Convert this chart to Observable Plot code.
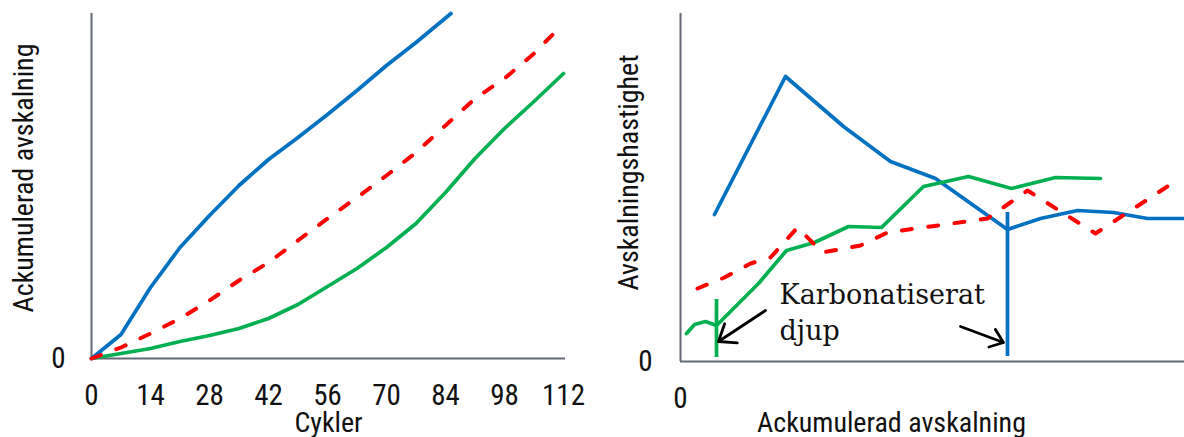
<!DOCTYPE html>
<html><head><meta charset="utf-8">
<script src="https://cdn.jsdelivr.net/npm/d3@7"></script>
<script src="https://cdn.jsdelivr.net/npm/@observablehq/plot@0.6"></script>
<style>
body{margin:0;background:#fff;}
#wrap{position:relative;width:1184px;height:437px;overflow:hidden;background:#fff;}
#left{position:absolute;left:0;top:0;}
#right{position:absolute;left:600px;top:0;}
</style></head><body><div id="wrap"><div id="left"></div><div id="right"></div></div>
<script>
// ---------- Left panel: accumulated scaling vs cycles ----------
const xTicksLeft = [0, 14, 28, 42, 56, 70, 84, 98, 112];
const blueCycles = [0, 7, 14, 21, 28, 35, 42, 49, 56, 63, 70, 77, 85.3];
const blueAcc    = [0, 24, 71, 111, 143, 173, 199, 221, 244, 268, 293, 316, 345];
const cycles     = [0, 7, 14, 21, 28, 35, 42, 49, 56, 63, 70, 77, 84, 91, 98, 105, 112];
const redAcc     = [0, 11, 25, 40, 58, 78, 96, 118, 140, 161, 183, 206, 233, 260, 280, 305, 335];
const greenAcc   = [0, 5, 10, 17, 23, 30, 40, 54, 72, 90, 111, 135, 166, 200, 230, 257, 285];

// ---------- Right panel: scaling rate vs accumulated scaling ----------
const blueRX  = [34, 105, 163, 210, 255, 327, 360, 397, 433, 467, 504];
const blueRY  = [147, 285, 235, 200, 183, 132, 143, 151, 149, 143, 143];
const greenRX = [6, 14, 25, 36, 46, 78, 106, 134, 168, 201, 243, 288, 331, 375, 420];
const greenRY = [28, 37, 40, 36, 46, 78, 111, 119, 135, 134, 175, 185, 173, 184, 183];
const redRX   = [17, 44, 70, 90, 117, 142, 180, 207, 250, 307, 347, 415, 496];
const redRY   = [73, 84, 98, 104, 134, 109, 116, 129, 135, 143, 171, 128, 181];
// carbonation depth markers
const depthX   = [36, 327];
const depthY1  = [4, 5];
const depthY2  = [62, 149];
const depthCol = ["#00B050", "#0070C0"];
// annotation
const annoText = ["Karbonatiserat", "djup"];
const annoX    = [99, 99];
const annoY    = [58, 22];
const arrowX1 = [85, 280], arrowY1 = [51, 35], arrowX2 = [38, 323], arrowY2 = [20, 19];

const BLUE = "#0070C0", GREEN = "#00B050", RED = "#FF0000", AXIS = "#636874";
const SANS = "'Roboto Condensed', 'Liberation Sans', Arial, sans-serif";
const DASH = "10,16.5";

const zip = (xs, ys) => xs.map((x, i) => ({x, y: ys[i]}));

const left = Plot.plot({
  width: 600, height: 437,
  marginLeft: 91, marginRight: 35, marginTop: 13, marginBottom: 79,
  style: {fontFamily: SANS, fontSize: "29px", color: "#111", background: "white", overflow: "visible"},
  x: {domain: [0, 112], range: [91, 563], ticks: xTicksLeft, tickSize: 0, tickPadding: 26, label: null},
  y: {domain: [0, 345], range: [358, 13], ticks: [0], tickSize: 0, tickPadding: 26, label: null},
  marks: [
    Plot.ruleX([0], {stroke: AXIS, strokeWidth: 2}),
    Plot.ruleY([0], {stroke: AXIS, strokeWidth: 2}),
    Plot.line(zip(cycles, greenAcc), {x: "x", y: "y", stroke: GREEN, strokeWidth: 3.7}),
    Plot.line(zip(blueCycles, blueAcc), {x: "x", y: "y", stroke: BLUE, strokeWidth: 3.7}),
    Plot.line(zip(cycles, redAcc), {x: "x", y: "y", stroke: RED, strokeWidth: 4, strokeDasharray: DASH}),
    Plot.text(["Cykler"], {frameAnchor: "bottom", textAnchor: "middle", lineAnchor: "bottom", dy: 73, fontSize: 28, fill: "#111"}),
    Plot.text(["Ackumulerad avskalning"], {frameAnchor: "left", textAnchor: "middle", rotate: -90, dx: -67, dy: -8, fontSize: 28, fill: "#111"})
  ]
});
document.getElementById("left").append(left);

const right = Plot.plot({
  width: 584, height: 437,
  marginLeft: 80, marginRight: 0, marginTop: 13, marginBottom: 76,
  style: {fontFamily: SANS, fontSize: "29px", color: "#111", background: "white", overflow: "visible"},
  x: {domain: [0, 504], range: [80, 584], ticks: [0], tickSize: 0, tickPadding: 26, label: null},
  y: {domain: [0, 348], range: [361, 13], ticks: [0], tickSize: 0, tickPadding: 28, label: null},
  marks: [
    Plot.ruleX([0], {stroke: AXIS, strokeWidth: 2}),
    Plot.ruleY([0], {stroke: AXIS, strokeWidth: 2}),
    Plot.line(zip(blueRX, blueRY), {x: "x", y: "y", stroke: BLUE, strokeWidth: 3.7}),
    Plot.line(zip(greenRX, greenRY), {x: "x", y: "y", stroke: GREEN, strokeWidth: 3.7}),
    Plot.line(zip(redRX, redRY), {x: "x", y: "y", stroke: RED, strokeWidth: 4, strokeDasharray: DASH}),
    Plot.ruleX(depthX.map((x, i) => ({x, y1: depthY1[i], y2: depthY2[i], c: depthCol[i]})),
      {x: "x", y1: "y1", y2: "y2", stroke: "c", strokeWidth: 3.7}),
    Plot.arrow(arrowX1.map((x, i) => ({x1: x, y1: arrowY1[i], x2: arrowX2[i], y2: arrowY2[i]})),
      {x1: "x1", y1: "y1", x2: "x2", y2: "y2", stroke: "black", strokeWidth: 2.8, headLength: 17, headAngle: 75}),
    Plot.text(annoText.map((t, i) => ({t, x: annoX[i], y: annoY[i]})),
      {x: "x", y: "y", text: "t", textAnchor: "start", lineAnchor: "bottom", fontFamily: "'DejaVu Serif', serif", fontSize: 27, fill: "#111"}),
    Plot.text(["Ackumulerad avskalning"], {frameAnchor: "bottom", textAnchor: "middle", lineAnchor: "bottom", dx: -41, dy: 70, fontSize: 28, fill: "#111"}),
    Plot.text(["Avskalningshastighet"], {frameAnchor: "left", textAnchor: "middle", rotate: -90, dx: -51, dy: -15, fontSize: 28, fill: "#111"})
  ]
});
document.getElementById("right").append(right);
</script>
</body></html>
